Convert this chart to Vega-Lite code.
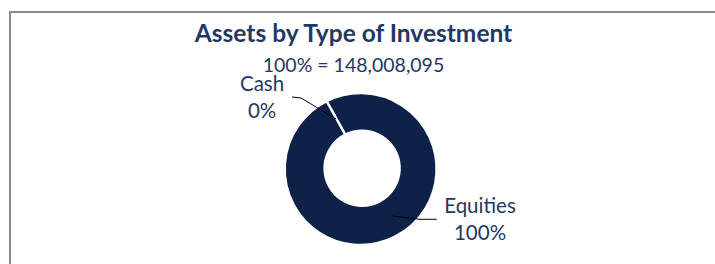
{
  "$schema": "https://vega.github.io/schema/vega-lite/v6.json",
  "width": 707,
  "height": 311,
  "autosize": {"type": "none"},
  "padding": {"left": 10, "top": 12, "right": 0, "bottom": 0},
  "background": "white",
  "config": {"view": {"stroke": "#8c8c8c", "strokeWidth": 2}},
  "title": {
    "text": "Assets by Type of Investment",
    "subtitle": "100% = 148,008,095",
    "anchor": "middle",
    "offset": -64,
    "dx": -10,
    "font": "Lato",
    "fontSize": 24.5,
    "fontWeight": "bold",
    "color": "#1F3864",
    "subtitleFont": "Lato",
    "subtitleFontSize": 19.5,
    "subtitleColor": "#1F3864",
    "subtitlePadding": 9
  },
  "layer": [
    {
      "data": {"values": [
        {"type": "Cash", "share": 0},
        {"type": "Equities", "share": 100}
      ]},
      "mark": {"type": "arc", "outerRadius": 76, "innerRadius": 37.5, "stroke": "white", "strokeWidth": 2.5, "fill": "#0E2148"},
      "encoding": {
        "theta": {"field": "share", "type": "quantitative", "stack": true, "scale": {"range": [-0.506, 5.777]}},
        "order": {"field": "type", "type": "ordinal"}
      }
    },
    {
      "data": {"values": [
        {"leader": "Cash", "seq": 1, "x": -0.960, "y": 0.946},
        {"leader": "Cash", "seq": 2, "x": -0.839, "y": 0.933},
        {"leader": "Cash", "seq": 3, "x": -0.369, "y": 0.651},
        {"leader": "Equities", "seq": 1, "x": 0.392, "y": -0.651},
        {"leader": "Equities", "seq": 2, "x": 0.758, "y": -0.695},
        {"leader": "Equities", "seq": 3, "x": 0.983, "y": -0.695}
      ]},
      "mark": {"type": "line", "color": "black", "strokeWidth": 1},
      "encoding": {
        "x": {"field": "x", "type": "quantitative", "axis": null, "scale": {"domain": [-4.745, 4.745], "nice": false, "zero": false}},
        "y": {"field": "y", "type": "quantitative", "axis": null, "scale": {"domain": [-2.087, 2.087], "nice": false, "zero": false}},
        "detail": {"field": "leader"},
        "order": {"field": "seq", "type": "quantitative"}
      }
    },
    {
      "data": {"values": [
        {"label": "Cash\n0%", "x": -1.362, "y": 1.107},
        {"label": "Equities\n100%", "x": 1.564, "y": -0.530}
      ]},
      "mark": {"type": "text", "font": "Lato", "fontSize": 20.5, "lineHeight": 27, "lineBreak": "\n", "color": "#1F3864", "align": "center", "baseline": "middle"},
      "encoding": {
        "x": {"field": "x", "type": "quantitative", "axis": null, "scale": {"domain": [-4.745, 4.745], "nice": false, "zero": false}},
        "y": {"field": "y", "type": "quantitative", "axis": null, "scale": {"domain": [-2.087, 2.087], "nice": false, "zero": false}},
        "text": {"field": "label"}
      }
    }
  ]
}
